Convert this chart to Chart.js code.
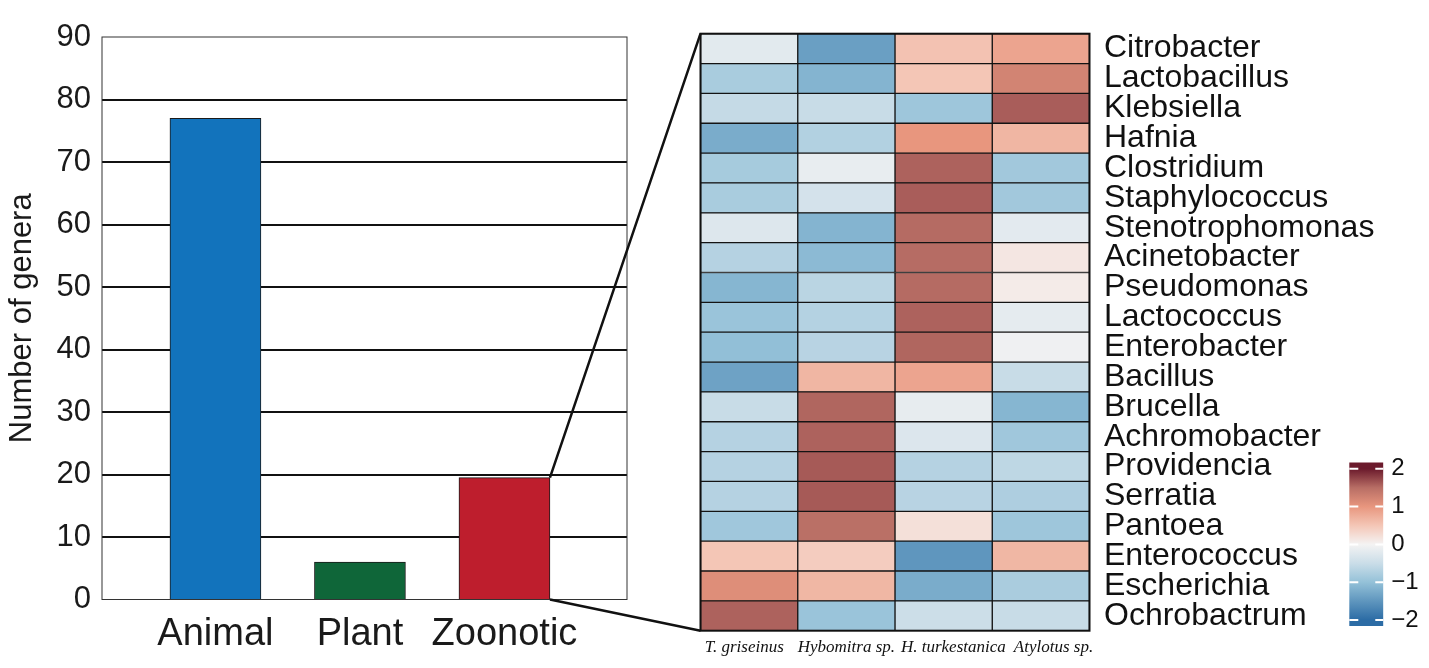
<!DOCTYPE html>
<html>
<head>
<meta charset="utf-8">
<script src="https://cdn.jsdelivr.net/npm/chart.js@4.4.1/dist/chart.umd.min.js"></script>
<style>
  html, body { margin: 0; padding: 0; background: #fff; }
  #wrap { position: relative; width: 1429px; height: 668px; overflow: hidden; }
  canvas { position: absolute; }
</style>
</head>
<body>
<div id="wrap">
  <canvas id="bars" width="660" height="668" style="left:0;top:0"></canvas>
  <canvas id="heat" width="720" height="668" style="left:680px;top:0"></canvas>
  <canvas id="scale" width="99" height="228" style="left:1330px;top:440px"></canvas>
  <canvas id="links" width="1429" height="668" style="left:0;top:0;pointer-events:none"></canvas>
</div>
<script>
// bar chart data
const groups = ['Animal', 'Plant', 'Zoonotic'];
const genusCounts = [77, 6, 19.5];
const countTicks = [0, 10, 20, 30, 40, 50, 60, 70, 80, 90];

// heatmap data (rows top to bottom)
const genera = ['Citrobacter', 'Lactobacillus', 'Klebsiella', 'Hafnia', 'Clostridium',
  'Staphylococcus', 'Stenotrophomonas', 'Acinetobacter', 'Pseudomonas', 'Lactococcus',
  'Enterobacter', 'Bacillus', 'Brucella', 'Achromobacter', 'Providencia',
  'Serratia', 'Pantoea', 'Enterococcus', 'Escherichia', 'Ochrobactrum'];
const insects = ['T. griseinus', 'Hybomitra sp.', 'H. turkestanica', 'Atylotus sp.'];
const tGriseinus = [-0.21, -0.81, -0.55, -1.25, -0.83, -0.81, -0.27, -0.69, -1.13, -0.94,
  -1.02, -1.36, -0.52, -0.69, -0.69, -0.69, -0.89, 0.5, 1.1, 1.57];
const hybomitra = [-1.4, -1.15, -0.52, -0.72, -0.14, -0.38, -1.15, -1.08, -0.65, -0.7,
  -0.67, 0.67, 1.55, 1.57, 1.62, 1.62, 1.48, 0.43, 0.66, -0.94];
const hTurkestanica = [0.54, 0.5, -0.91, 1.0, 1.57, 1.6, 1.52, 1.51, 1.52, 1.57,
  1.55, 0.85, -0.16, -0.29, -0.69, -0.67, 0.21, -1.5, -1.25, -0.48];
const atylotus = [0.85, 1.23, 1.6, 0.67, -0.87, -0.87, -0.2, 0.14, 0.09, -0.18,
  -0.06, -0.52, -1.13, -0.89, -0.61, -0.76, -0.91, 0.66, -0.8, -0.52];
const colorbarTicks = [-2, -1, 0, 1, 2];

const SANS = '"Liberation Sans", Arial, sans-serif';
const SERIF = '"Liberation Serif", "Times New Roman", serif';

// blue - white - red ramp
const ramp = [
  [-2, '#2c6ca5'], [-1.5, '#5f96be'], [-1, '#94c1d8'], [-0.5, '#caddE8'],
  [0, '#f4f3f3'], [0.5, '#f4c6b6'], [1, '#e8967e'], [1.5, '#b86e65'], [2, '#6b1a2c']
];

function hexToRgb(h) {
  const n = parseInt(h.slice(1), 16);
  return [(n >> 16) & 255, (n >> 8) & 255, n & 255];
}

function colorFor(v) {
  v = Math.max(-2, Math.min(2, v));
  for (let i = 0; i < ramp.length - 1; i++) {
    const [v0, c0] = ramp[i], [v1, c1] = ramp[i + 1];
    if (v <= v1) {
      const t = (v - v0) / (v1 - v0);
      const a = hexToRgb(c0), b = hexToRgb(c1);
      return 'rgb(' + a.map((x, k) => Math.round(x + (b[k] - x) * t)).join(',') + ')';
    }
  }
  return ramp[ramp.length - 1][1];
}

// box around the plot area
const framePlugin = {
  id: 'frame',
  afterDatasetsDraw(chart, args, opts) {
    const { ctx, chartArea: a } = chart;
    ctx.save();
    ctx.strokeStyle = opts.color || '#333';
    ctx.lineWidth = opts.width || 1;
    ctx.strokeRect(a.left, a.top, a.right - a.left, a.bottom - a.top);
    ctx.restore();
  }
};

// white tick dashes on the colour bar
const dashPlugin = {
  id: 'dashes',
  afterDatasetsDraw(chart) {
    const { ctx, chartArea: a, scales } = chart;
    ctx.save();
    ctx.strokeStyle = '#ffffff';
    ctx.lineWidth = 2;
    colorbarTicks.forEach(v => {
      const y = scales.y.getPixelForValue(v);
      ctx.beginPath();
      ctx.moveTo(a.left, y); ctx.lineTo(a.left + 9, y);
      ctx.moveTo(a.right - 8, y); ctx.lineTo(a.right, y);
      ctx.stroke();
    });
    ctx.restore();
  }
};

const noChrome = { legend: { display: false }, tooltip: { enabled: false } };

const barChart = new Chart(document.getElementById('bars'), {
  type: 'bar',
  data: {
    datasets: [{
      data: genusCounts.map((v, i) => ({ x: i + 1, y: v })),
      backgroundColor: ['#1273bc', '#0f6639', '#be1e2d'],
      borderColor: '#1a1a1a',
      borderWidth: 1,
      barThickness: 91
    }]
  },
  options: {
    responsive: false,
    animation: false,
    layout: { padding: { left: 0, right: 33, top: 37, bottom: 0 } },
    plugins: { ...noChrome, frame: { color: '#333', width: 1 } },
    scales: {
      x: {
        type: 'linear', min: 0.215, max: 3.848, offset: false,
        grid: { display: false, drawTicks: false, offset: false },
        border: { display: false },
        afterBuildTicks: a => { a.ticks = groups.map((g, i) => ({ value: i + 1 })); },
        afterFit: a => { a.height = 68.5; },
        ticks: {
          autoSkip: false, maxRotation: 0, padding: 12, color: '#1a1a1a',
          font: { family: SANS, size: 38 },
          callback: v => groups[Math.round(v) - 1]
        }
      },
      y: {
        min: 0, max: 90,
        afterBuildTicks: a => { a.ticks = countTicks.map(v => ({ value: v })); },
        afterFit: a => { a.width = 102; },
        grid: {
          color: '#111',
          lineWidth: c => (c.tick && (c.tick.value === 0 || c.tick.value === 90)) ? 0 : 2,
          drawTicks: false
        },
        border: { display: false },
        ticks: { padding: 11, color: '#1a1a1a', font: { family: SANS, size: 31 } },
        title: {
          display: true, text: 'Number of genera', color: '#1a1a1a',
          font: { family: SANS, size: 31 }, padding: { top: 4, bottom: 0 }
        }
      }
    }
  },
  plugins: [framePlugin]
});

const columns = [tGriseinus, hybomitra, hTurkestanica, atylotus];

const heatChart = new Chart(document.getElementById('heat'), {
  type: 'bar',
  data: {
    labels: genera,
    datasets: columns.map((vals, c) => ({
      label: insects[c],
      data: vals.map(() => [c, c + 1]),
      backgroundColor: vals.map(colorFor),
      borderColor: '#141414',
      borderWidth: 1,
      borderSkipped: false,
      grouped: false,
      categoryPercentage: 1,
      barPercentage: 1
    }))
  },
  options: {
    indexAxis: 'y',
    responsive: false,
    animation: false,
    layout: { padding: { left: 20.5, top: 8.3, right: 0, bottom: 0 } },
    plugins: { ...noChrome, frame: { color: '#111', width: 2 } },
    scales: {
      x: {
        type: 'linear', min: 0, max: 4, offset: false,
        grid: { display: false, drawTicks: false },
        border: { display: false },
        // label anchors sit slightly off the column centres, as in the figure
        afterBuildTicks: a => { a.ticks = [0.45, 1.5, 2.6, 3.63].map(v => ({ value: v })); },
        afterFit: a => { a.height = 37.3; },
        ticks: {
          autoSkip: false, maxRotation: 0, padding: 7, color: '#111',
          font: { family: SERIF, size: 17, style: 'italic' },
          callback: (v, i) => insects[i]
        }
      },
      y: {
        position: 'right',
        grid: { display: false, drawTicks: false },
        border: { display: false },
        afterFit: a => { a.width = 310.5; },
        ticks: { autoSkip: false, padding: 14.5, color: '#111', font: { family: SANS, size: 32 } }
      }
    }
  },
  plugins: [framePlugin]
});

function rampGradient(chart) {
  const { ctx, chartArea, scales } = chart;
  if (!chartArea) return '#f4f3f3';
  const y0 = scales.y.getPixelForValue(-2), y1 = scales.y.getPixelForValue(2);
  const g = ctx.createLinearGradient(0, y0, 0, y1);
  ramp.forEach(([v, c]) => g.addColorStop((v + 2) / 4, c));
  return g;
}

new Chart(document.getElementById('scale'), {
  type: 'bar',
  data: {
    labels: [''],
    datasets: [{
      data: [[-2.16, 2.17]],
      backgroundColor: c => rampGradient(c.chart),
      borderWidth: 0,
      categoryPercentage: 1,
      barPercentage: 1
    }]
  },
  options: {
    responsive: false,
    animation: false,
    layout: { padding: { left: 19.3, top: 16, bottom: 42, right: 0 } },
    plugins: noChrome,
    scales: {
      x: { display: false },
      y: {
        position: 'right', min: -2.16, max: 2.17,
        grid: { display: false, drawTicks: false },
        border: { display: false },
        afterBuildTicks: a => { a.ticks = colorbarTicks.map(v => ({ value: v })); },
        afterFit: a => { a.width = 45.7; },
        ticks: {
          padding: 8, color: '#111', font: { family: SANS, size: 24 },
          callback: v => v < 0 ? '\u2212' + Math.abs(v) : String(v)
        }
      }
    }
  },
  plugins: [dashPlugin]
});

// zoom lines from the Zoonotic bar to the heatmap
(function drawLinks() {
  const bar = barChart.getDatasetMeta(0).data[2];
  const area = heatChart.chartArea;
  const hx = 680 + area.left;
  const right = bar.x + bar.width / 2;
  const ctx = document.getElementById('links').getContext('2d');
  ctx.strokeStyle = '#111';
  ctx.lineWidth = 2.5;
  ctx.beginPath();
  ctx.moveTo(right, bar.y); ctx.lineTo(hx, area.top);
  ctx.moveTo(right, bar.base); ctx.lineTo(hx, area.bottom);
  ctx.stroke();
})();
</script>
</body>
</html>
